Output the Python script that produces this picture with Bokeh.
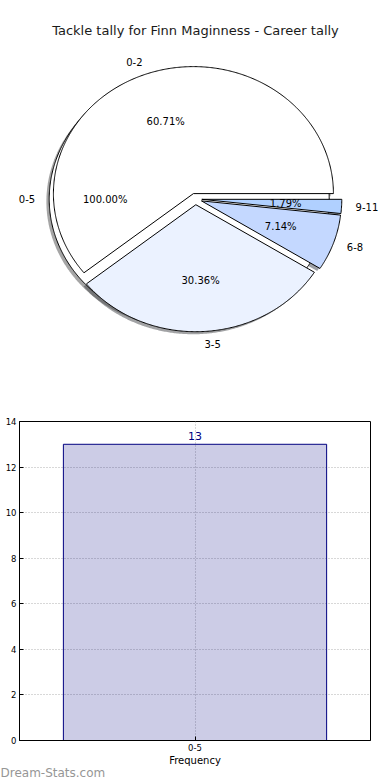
import numpy as np
from bokeh.plotting import figure
from bokeh.models import ColumnDataSource, Range1d, FactorRange, Label, Title
from bokeh.layouts import column
from bokeh.core.properties import value
from bokeh.embed import file_html
from bokeh.resources import INLINE

# ---------------- data ----------------
title_text = "Tackle tally for Finn Maginness - Career tally"
pie_labels = ["0-2", "3-5", "6-8", "9-11"]
pie_counts = [34, 17, 4, 1]
pie_colors = ["#ffffff", "#ebf2ff", "#c4d8ff", "#b0d0ff"]
bar_categories = ["0-5"]
bar_values = [13]
outer_colors = ["#ffffff"]
y_ticks = [0, 2, 4, 6, 8, 10, 12, 14]
x_label = "Frequency"
watermark = "Dream-Stats.com"

FONT = "DejaVu Sans"
EXPLODE = 0.045
SHADOW = 0.02


def hex_to_rgb(h):
    h = h.lstrip("#")
    return tuple(int(h[i:i + 2], 16) for i in (0, 2, 4))


def pie_geometry(labels, counts, colors):
    counts = np.asarray(counts, dtype=float)
    frac = counts / counts.sum()
    t = 0.0
    out = dict(xs=[], ys=[], sxs=[], sys=[], color=[], scolor=[],
               lx=[], ly=[], lalign=[], px=[], py=[], ptext=[], label=[])
    for lab, f, col in zip(labels, frac, colors):
        t1, t2 = t, t + 360.0 * f
        t = t2
        mid = np.deg2rad(0.5 * (t1 + t2))
        cx, cy = EXPLODE * np.cos(mid), EXPLODE * np.sin(mid)
        ang = np.deg2rad(np.linspace(t1, t2, max(int(abs(t2 - t1)) * 2, 8)))
        ax, ay = cx + np.cos(ang), cy + np.sin(ang)
        if f < 0.9999:
            xs = np.concatenate([[cx], ax, [cx]])
            ys = np.concatenate([[cy], ay, [cy]])
        else:
            xs, ys = ax, ay
        out["xs"].append(list(xs)); out["ys"].append(list(ys))
        out["sxs"].append(list(xs - SHADOW)); out["sys"].append(list(ys - SHADOW))
        out["color"].append(col)
        r, g, b = hex_to_rgb(col)
        out["scolor"].append("#%02x%02x%02x" % (int(0.3 * r), int(0.3 * g), int(0.3 * b)))
        lx = cx + 1.1 * np.cos(mid)
        ly = cy + 1.1 * np.sin(mid)
        out["lx"].append(lx); out["ly"].append(ly)
        out["lalign"].append("left" if lx > 0 else "right")
        out["label"].append(lab)
        out["px"].append(cx + 0.6 * np.cos(mid)); out["py"].append(cy + 0.6 * np.sin(mid))
        out["ptext"].append("%.2f%%" % (100 * f))
    return out


outer = pie_geometry(bar_categories, bar_values, outer_colors)
inner = pie_geometry(pie_labels, pie_counts, pie_colors)

# ---------------- pie figure ----------------
W1, H1 = 390, 396
RX, RY = 140.0, 127.0
CXP, CYP = 195.0, 198.5
p1 = figure(width=W1, height=H1, output_backend="svg", toolbar_location=None,
            x_range=Range1d(-CXP / RX, (W1 - CXP) / RX),
            y_range=Range1d(-(H1 - CYP) / RY, CYP / RY),
            x_axis_location=None, y_axis_location=None,
            min_border=0, outline_line_color=None)
p1.frame_align = False
p1.grid.visible = False

for g in (outer, inner):
    p1.patches(xs=g["sxs"], ys=g["sys"], fill_color=g["scolor"], fill_alpha=0.5, line_color=None)
for g in (outer, inner):
    p1.patches(xs=g["xs"], ys=g["ys"], fill_color=g["color"], line_color="black", line_width=1)

for g in (outer, inner):
    src = ColumnDataSource(dict(x=g["lx"], y=g["ly"], t=g["label"], a=g["lalign"]))
    p1.text(x="x", y="y", text="t", text_align="a", text_baseline="middle", source=src,
            text_font=value(FONT), text_font_size="10px", text_color="black")
    src2 = ColumnDataSource(dict(x=g["px"], y=g["py"], t=g["ptext"]))
    p1.text(x="x", y="y", text="t", text_align="center", text_baseline="middle", source=src2,
            text_font=value(FONT), text_font_size="10px", text_color="black")

p1.add_layout(Label(x=0, y=(CYP - 30) / RY, text=title_text, text_align="center",
                    text_baseline="middle", text_font=FONT, text_font_size="13px",
                    text_color="#1a1a1a"))

# ---------------- bar figure ----------------
W2, H2 = 390, 384
BL, BR, BT, BB = 19, 20, 25, 40
p2 = figure(width=W2, height=H2, output_backend="svg", toolbar_location=None,
            x_range=FactorRange(*bar_categories), y_range=Range1d(0, 14),
            min_border_left=BL, min_border_right=BR, min_border_top=BT, min_border_bottom=BB)
p2.frame_align = False
p2.vbar(x=bar_categories, top=bar_values, width=0.75, fill_color="navy", fill_alpha=0.2,
        line_color="navy", line_width=1)
p2.text(x=bar_categories, y=bar_values, text=[str(v) for v in bar_values],
        text_align="center", text_baseline="bottom", y_offset=-4,
        text_font=value(FONT), text_font_size="11px", text_color="navy")

p2.yaxis.ticker = y_ticks
p2.xaxis.axis_label = x_label
for ax in (p2.xaxis, p2.yaxis):
    ax.major_tick_in = 4
    ax.major_tick_out = 0
    ax.minor_tick_line_color = None
    ax.axis_line_color = "black"
    ax.major_tick_line_color = "black"
    ax.major_label_text_font = FONT
    ax.major_label_text_font_size = "8.5px"
    ax.major_label_text_color = "black"
    ax.major_label_standoff = 3
    ax.major_label_text_line_height = 1.0
p2.xaxis.axis_label_text_font = FONT
p2.xaxis.axis_label_text_font_size = "10px"
p2.xaxis.axis_label_text_font_style = "normal"
p2.xaxis.axis_label_standoff = 1
p2.xaxis.axis_label_text_line_height = 1.0
p2.xaxis.axis_label_text_color = "black"

p2.grid.grid_line_color = "#b0b0b0"
p2.grid.grid_line_dash = "1 2"
p2.grid.grid_line_width = 1
p2.outline_line_color = "black"
p2.outline_line_alpha = 1
p2.outline_line_width = 1

p2.add_layout(Title(text=watermark, align="left", offset=-BL, standoff=-9,
                    text_font=FONT, text_font_size="12px", text_color="#969696",
                    text_line_height=0.8, text_font_style="normal"), "below")

layout = column(p1, p2, spacing=0)
open("out.html", "w").write(file_html(layout, INLINE))
